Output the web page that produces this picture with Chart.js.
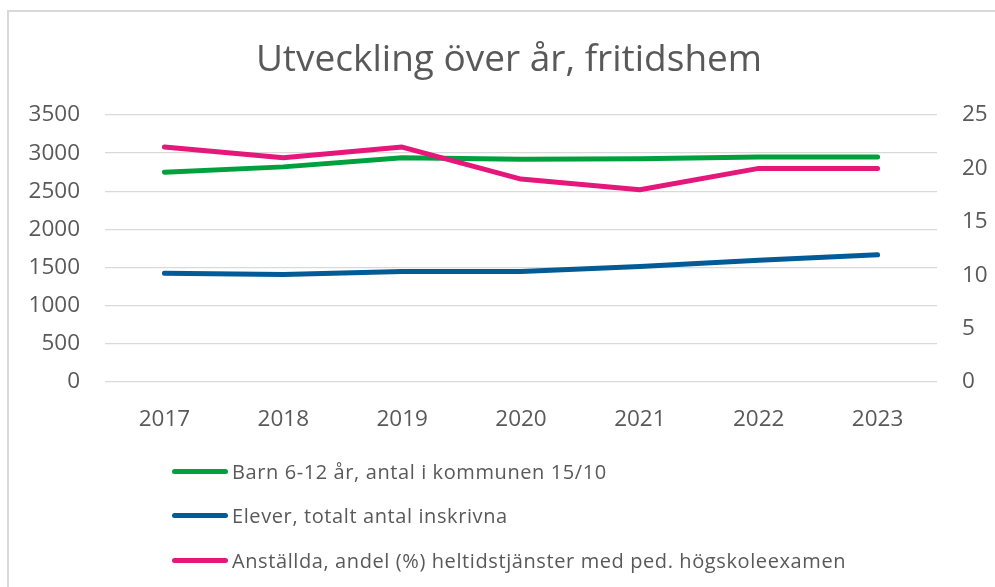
<!DOCTYPE html>
<html>
<head>
<meta charset="utf-8">
<script src="https://cdn.jsdelivr.net/npm/chart.js@4"></script>
<style>
  body { margin: 0; background: #fff; overflow: hidden; }
  #ram { position: absolute; left: 7px; top: 10px; width: 1010px; height: 600px;
         border-left: 2px solid #d9d9d9; border-top: 2px solid #d9d9d9; }
  #wrap { position: absolute; left: 0; top: 0; width: 1000px; height: 440px; }
  #legend { position: absolute; left: 163px; top: 437px; font-family: "Open Sans", sans-serif;
            font-size: 20px; letter-spacing: 0.6px; color: #595959; }
  .rad { height: 44.6px; display: flex; align-items: center; }
  .rad span.linje { display: inline-block; width: 56px; height: 5px; border-radius: 3px; margin-right: 4px; }
</style>
</head>
<body>
<div id="ram">
  <div id="wrap"><canvas id="myChart" width="1000" height="440"></canvas></div>
  <div id="legend"></div>
</div>
<script>
var years = ['2017', '2018', '2019', '2020', '2021', '2022', '2023'];
var barn = [2750, 2820, 2940, 2920, 2925, 2950, 2950];
var elever = [1425, 1408, 1448, 1448, 1513, 1597, 1667];
var andel = [22, 21, 22, 19, 18, 20, 20];
var labelsSerie = ['Barn 6-12 år, antal i kommunen 15/10', 'Elever, totalt antal inskrivna',
                   'Anställda, andel (%) heltidstjänster med ped. högskoleexamen'];
var farger = ['#00A03E', '#005B97', '#E5177B'];

var gra = '#595959';
var tickFont = { family: 'Open Sans', size: 22.5 };

function serie(i, data, axel) {
  return {
    label: labelsSerie[i],
    data: data,
    yAxisID: axel,
    borderColor: farger[i],
    backgroundColor: farger[i],
    borderWidth: 5,
    borderCapStyle: 'round',
    borderJoinStyle: 'round',
    pointRadius: 0,
    tension: 0
  };
}

var ctx = document.getElementById('myChart').getContext('2d');
var utvChart = new Chart(ctx, {
  type: 'line',
  data: {
    labels: years,
    datasets: [
      serie(2, andel, 'y2'),
      serie(0, barn, 'y'),
      serie(1, elever, 'y')
    ]
  },
  options: {
    responsive: false,
    animation: false,
    layout: { padding: { left: 0, right: 0, top: 0, bottom: 0 } },
    plugins: {
      legend: { display: false },
      tooltip: { enabled: false },
      title: {
        display: true,
        text: 'Utveckling över år, fritidshem',
        color: gra,
        font: { family: 'Open Sans', size: 37, weight: 'normal' },
        padding: { top: 26, bottom: 32.6 }
      }
    },
    scales: {
      x: {
        offset: true,
        grid: { display: false },
        border: { display: false },
        ticks: { color: gra, font: tickFont, padding: 16 },
        afterFit: function (s) { s.height = 70; }
      },
      y: {
        position: 'left',
        min: 0, max: 3500,
        ticks: { stepSize: 500, color: gra, font: tickFont, padding: 25,
                 callback: function (v) { return v; } },
        grid: { color: '#d9d9d9', lineWidth: 1.3, drawTicks: false },
        border: { display: false },
        afterFit: function (s) { s.width = 96; }
      },
      y2: {
        position: 'right',
        min: 0, max: 25,
        ticks: { stepSize: 5, color: gra, font: tickFont, padding: 25 },
        grid: { drawOnChartArea: false, drawTicks: false },
        border: { display: false },
        afterFit: function (s) { s.width = 72; }
      }
    }
  }
});

// legend som lista under diagrammet
var ordning = [1, 2, 0];
var html = '';
ordning.forEach(function (d) {
  var ds = utvChart.data.datasets[d];
  html += '<div class="rad"><span class="linje" style="background:' + ds.borderColor + '"></span>' + ds.label + '</div>';
});
document.getElementById('legend').innerHTML = html;
</script>
</body>
</html>
